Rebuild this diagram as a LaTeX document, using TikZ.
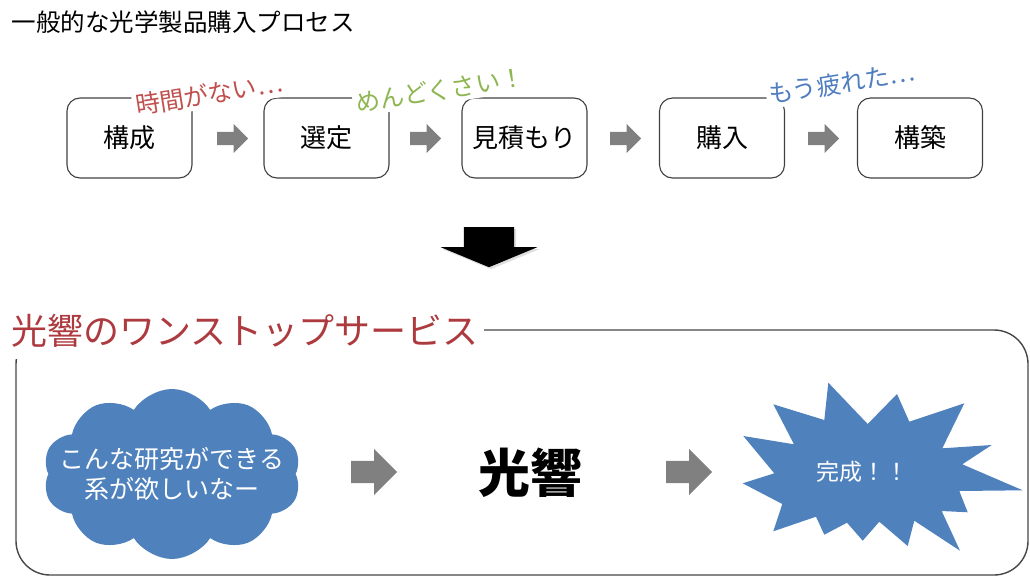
\documentclass[tikz,border=0pt]{standalone}
\usepackage{fontspec}
\setmainfont{Noto Sans CJK JP}
\usetikzlibrary{shapes.arrows,shapes.symbols,shadows}
\definecolor{headred}{HTML}{AD3A3E}
\definecolor{remarkred}{HTML}{C0504D}
\definecolor{remarkgreen}{HTML}{8DB650}
\definecolor{remarkblue}{HTML}{4F7EC0}
\definecolor{shapeblue}{HTML}{4F81BD}
\tikzset{
  stepbox/.style={draw=black!75, line width=1.1pt, rounded corners=13pt, minimum width=125pt, minimum height=80pt, font=\fontsize{26}{28}\selectfont},
  remark/.style={fill=white, rotate=9, inner sep=3pt, font=\fontsize{24.5}{28}\selectfont},
  grayarrow/.style={single arrow, anchor=tail, fill=black!50, inner xsep=0pt, inner ysep=6.5pt, minimum height=31pt, single arrow head extend=8pt},
  bigarrow/.style={single arrow, anchor=tail, fill=black!50, inner xsep=0pt, inner ysep=11pt, minimum height=46pt, single arrow head extend=12pt},
  downarrow/.style={single arrow, anchor=tail, rotate=-90, fill=black, inner xsep=0pt, inner ysep=25pt, minimum height=40pt, single arrow head extend=23pt, single arrow tip angle=135, drop shadow={opacity=0.25, shadow xshift=2pt, shadow yshift=-2pt}},
  frame/.style={draw=black!72, line width=1.4pt, rounded corners=34pt},
  wishcloud/.style={cloud, cloud puffs=10, cloud puff arc=115, aspect=1.6, fill=shapeblue, minimum width=258pt, minimum height=170pt, inner sep=0pt},
  wishtext/.style={text=white, align=center, font=\fontsize{25}{30}\selectfont},
}

\begin{document}
\begin{tikzpicture}[x=1pt, y=-1pt]
\useasboundingbox (0,0) rectangle (1030,578);
% general process
\node[anchor=west, font=\fontsize{24.5}{28}\selectfont] (title) at (8,22) {一般的な光学製品購入プロセス};
\node[stepbox] (kosei) at (129.5,138) {構成};
\node[stepbox] (sentei) at (326.5,138) {選定};
\node[stepbox] (mitsumori) at (524.5,138) {見積もり};
\node[stepbox] (konyu) at (722,138) {購入};
\node[stepbox] (kochiku) at (920,138) {構築};
\node[grayarrow] (a1) at (217,138.5) {};
\node[grayarrow] (a2) at (410,138.5) {};
\node[grayarrow] (a3) at (610,138.5) {};
\node[grayarrow] (a4) at (808,138.5) {};
\node[remark, text=remarkred] (jikan) at (209,94) {時間がない…};
\node[remark, text=remarkgreen] (mendo) at (440,90) {めんどくさい！};
\node[remark, text=remarkblue] (tsukare) at (842,83) {もう疲れた…};
\node[downarrow] (down) at (489,227) {};
% one stop service
\draw[frame] (16,330) rectangle (1028,575);
\node[anchor=west, fill=white, inner sep=6pt, minimum height=56pt, text=headred, font=\fontsize{36}{40}\selectfont] (service) at (5,331) {光響のワンストップサービス};
\node[wishcloud] (wish) at (172,474) {};
\node[wishtext] (wishlabel) at (wish.center) {こんな研究ができる\\系が欲しいなー};
\node[bigarrow] (a5) at (351,472) {};
\node[font=\bfseries\fontsize{52}{56}\selectfont] (kokyo) at (530,473) {光響};
\node[bigarrow] (a6) at (666,472) {};
\fill[shapeblue] (828.3,382.7) -- (867.7,424) -- (897,394) -- (909.3,421.7) -- (964.3,403.3) -- (942.3,448.3) -- (991.7,445) -- (962.3,464.3) -- (1022.7,490.3) -- (959.3,491) -- (967.7,512.3) -- (941.7,511) -- (960,550.7) -- (914.3,520.7) -- (907.7,546) -- (879.3,521.7) -- (862.7,540.7) -- (847,522.7) -- (824.3,534.7) -- (816,516.7) -- (773.3,531.3) -- (782.3,504) -- (742.7,483.3) -- (774.3,473.3) -- (743.3,436) -- (794,444.3) -- (773.3,404.3) -- (824.3,420) -- cycle;
\node[text=white, font=\fontsize{23}{26}\selectfont] (done) at (862,472) {完成！！};
\end{tikzpicture}
\end{document}
